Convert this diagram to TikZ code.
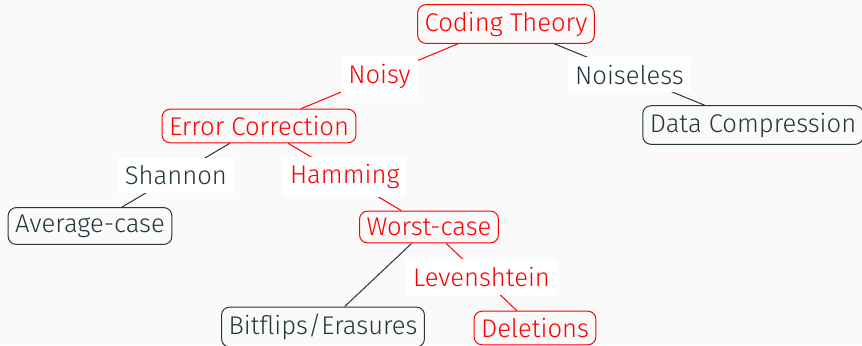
\documentclass[tikz,border=0pt]{standalone}
\usepackage{fontspec}
\setmainfont{Fira Sans}[UprightFont=* Light]
\definecolor{darkteal}{HTML}{23373B}
\definecolor{hlred}{HTML}{FF0000}
\definecolor{bggray}{HTML}{FAFAFA}
\tikzset{
  topic/.style={draw, rounded corners=4pt, inner xsep=3.5pt, inner ysep=3.5pt, line width=0.5pt},
  lbl/.style={fill=white, inner xsep=3.5pt, inner ysep=4pt},
}
\begin{document}
\begin{tikzpicture}[x=0.5pt,y=-0.5pt,font=\fontsize{12.8}{15}\selectfont,line width=0.5pt]
    \useasboundingbox[fill=bggray] (0,0) rectangle (862,345);
    \node[topic,hlred] (coding) at (506,24) {Coding Theory};
    \node[topic,hlred] (error) at (259,126) {Error Correction};
    \node[topic,darkteal] (compress) at (753,125) {Data Compression};
    \node[topic,darkteal] (average) at (90,226) {Average-case};
    \node[topic,hlred] (worst) at (429,227) {Worst-case};
    \node[topic,darkteal] (bitflips) at (323,327) {Bitflips/Erasures};
    \node[topic,hlred] (deletions) at (535,328) {Deletions};
    \draw[hlred] (coding) -- (error) node[lbl,midway] {Noisy};
    \draw[darkteal] (coding) -- (compress) node[lbl,midway] {Noiseless};
    \draw[darkteal] (error) -- (average) node[lbl,midway] {Shannon};
    \draw[hlred] (error) -- (worst) node[lbl,midway] {Hamming};
    \draw[darkteal] (worst) -- (bitflips);
    \draw[hlred] (worst) -- (deletions) node[lbl,midway] {Levenshtein};
   \end{tikzpicture}
\end{document}
